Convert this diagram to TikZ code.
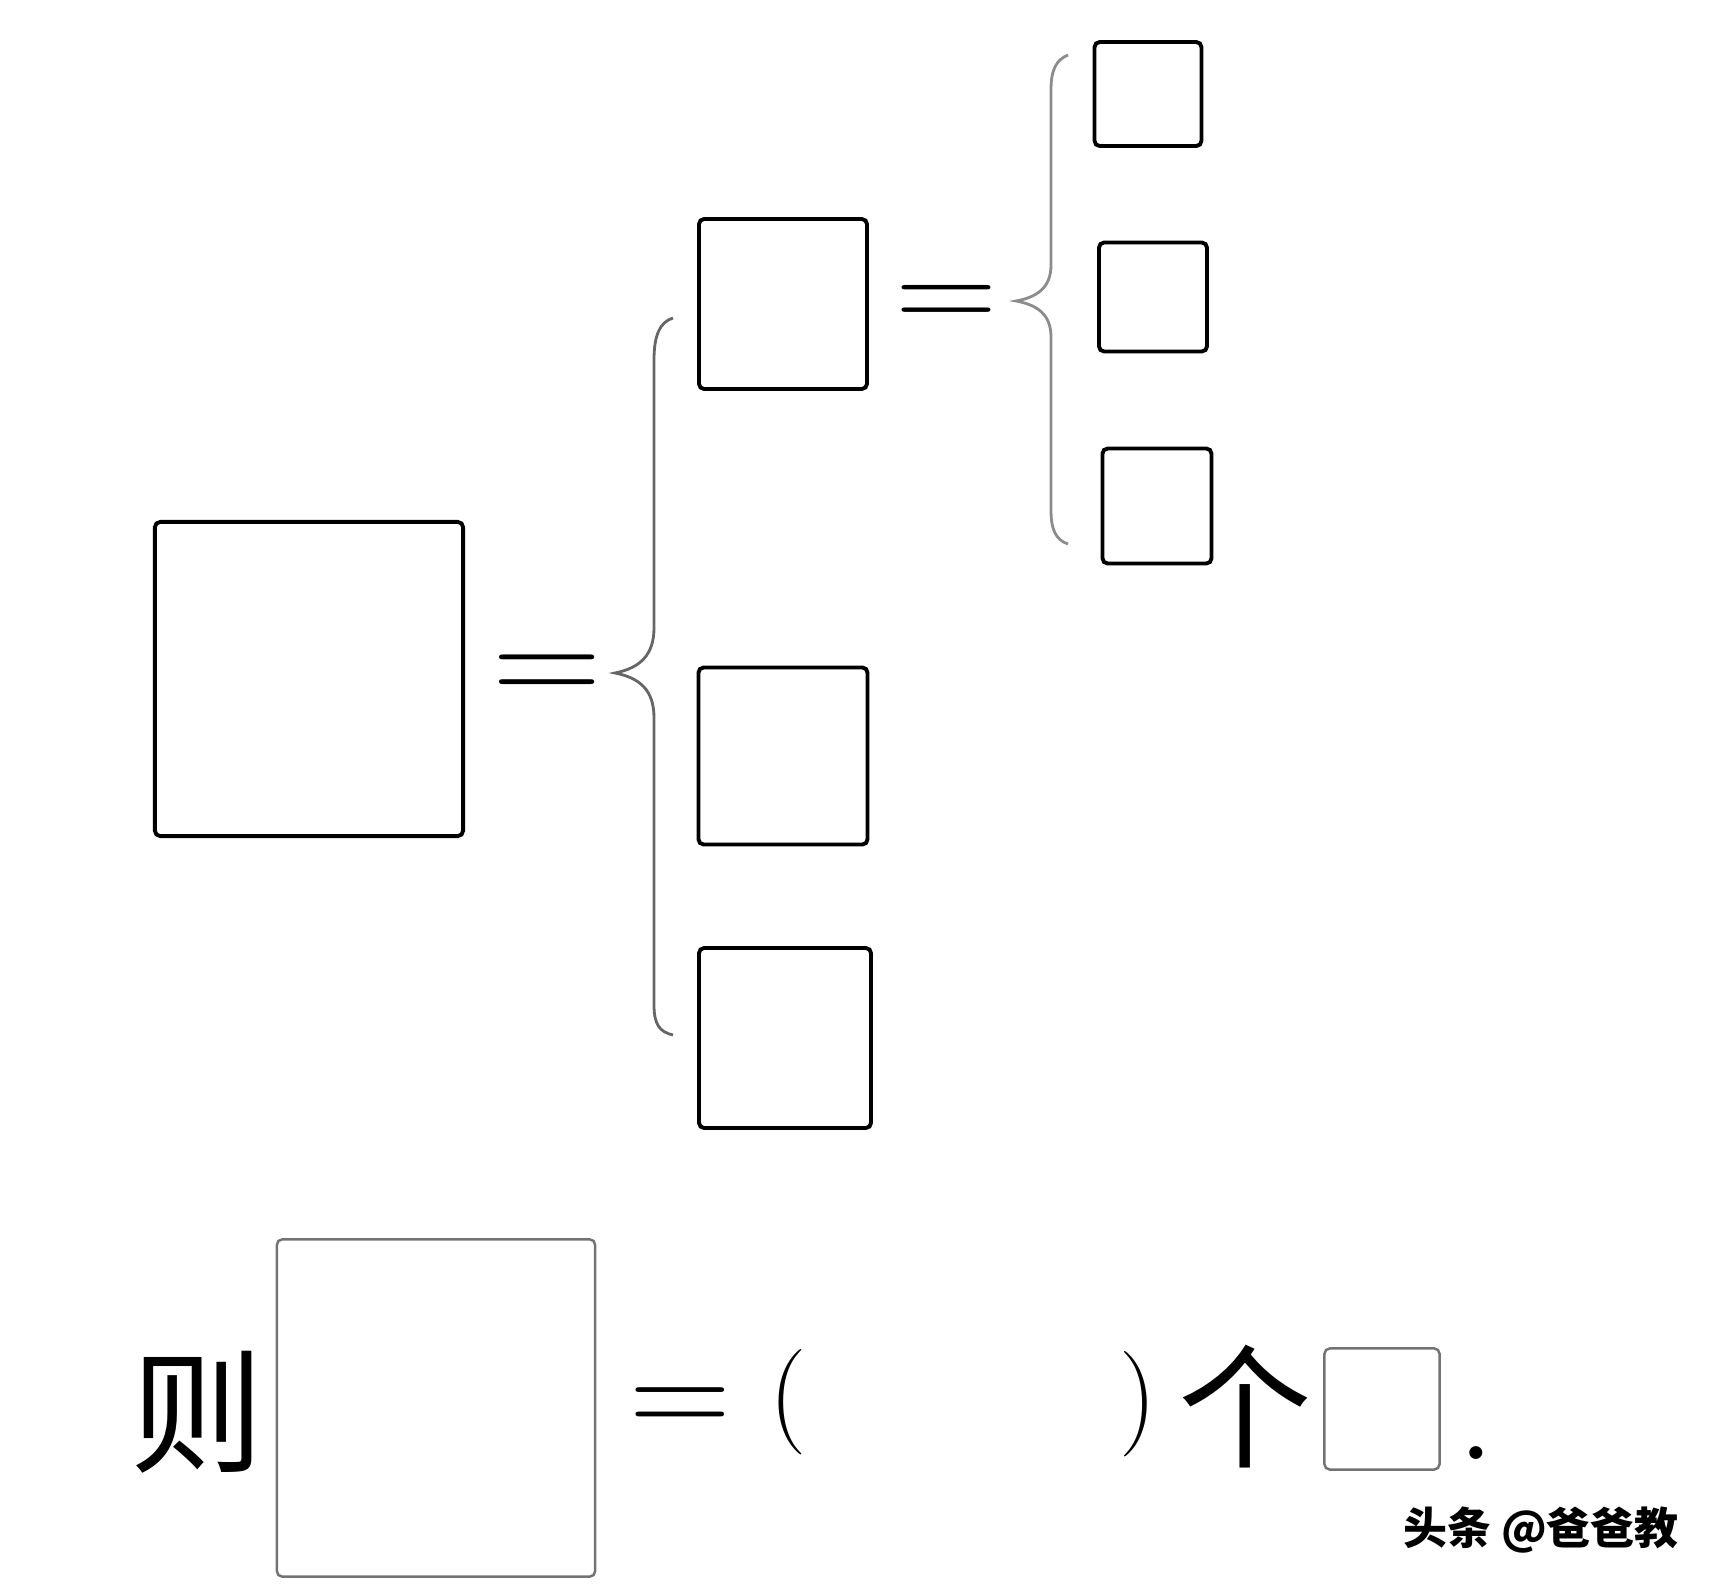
\documentclass[tikz,border=0pt]{standalone}
\usepackage{fontspec}
\newfontfamily\cjk{Noto Sans CJK SC}
\tikzset{
    %Define style for the empty boxes
    blank/.style={
           rectangle,
           rounded corners=1.5pt,
           draw=black, line width=1.1pt,
           inner sep=0pt},
    faint/.style={
           blank,
           draw=black!55, line width=0.7pt},
    % Define style for braces
    bracket/.style={
           draw=black!60,
           line width=0.8pt},
    % Define style for text
    word/.style={
           font=\cjk\fontsize{38}{38}\selectfont,
           inner sep=0pt},
    eqsign/.style={
           anchor=base,
           inner sep=0pt}
}
\begin{document}
\begin{tikzpicture}[x=0.01cm, y=-0.01cm]
\useasboundingbox (0,0) rectangle (1717,1591);
% top part
\node[blank, minimum width=3.08cm, minimum height=3.14cm](whole) at (309,679){};
\node[eqsign, font=\fontsize{36}{36}\selectfont](eqa) at (547,705){\scalebox{1.2}[1.1]{=}};
\node[blank, minimum width=1.68cm, minimum height=1.70cm](partA) at (783,304){};
\node[blank, minimum width=1.69cm, minimum height=1.77cm](partB) at (783,756){};
\node[blank, minimum width=1.72cm, minimum height=1.80cm](partC) at (785,1038){};
\node[eqsign, font=\fontsize{36}{36}\selectfont](eqb) at (947,331){\scalebox{1.12}[1]{=}};
\node[blank, minimum width=1.07cm, minimum height=1.04cm](bitA) at (1148,94){};
\node[blank, minimum width=1.08cm, minimum height=1.09cm](bitB) at (1153,297){};
\node[blank, minimum width=1.09cm, minimum height=1.15cm](bitC) at (1157,506){};
% braces
\draw[bracket] (673,318) .. controls (660,322) and (654,335) .. (654,360) -- (654,628)
    .. controls (654,655) and (640,668) .. (615,673)
    .. controls (640,678) and (654,690) .. (654,718) -- (654,1005)
    .. controls (654,1025) and (660,1032) .. (673,1035);
\draw[bracket, draw=black!45] (1068,55) .. controls (1056,60) and (1051,70) .. (1051,90) -- (1051,265)
    .. controls (1051,287) and (1038,297) .. (1016,301)
    .. controls (1038,305) and (1051,315) .. (1051,337) -- (1051,510)
    .. controls (1051,530) and (1056,540) .. (1068,544);
% bottom line
\node[word](ze) at (197,1412){则};
\node[faint, minimum width=3.18cm, minimum height=3.37cm](total) at (436,1408){};
\node[eqsign, font=\fontsize{39}{39}\selectfont](eqc) at (680,1436){\scalebox{1.03}[1]{=}};
\node[font=\fontsize{30}{30}\selectfont, inner sep=0pt](lp) at (788,1402){(};
\node[font=\fontsize{30}{30}\selectfont, inner sep=0pt](rp) at (1138,1404){)};
\node[word](ge) at (1245,1407){个};
\node[faint, minimum width=1.15cm, minimum height=1.21cm](unit) at (1382,1409){};
\node[eqsign, font=\fontsize{45}{45}\selectfont](dot) at (1476,1459){.};
\node[font=\cjk\bfseries\fontsize{12.5}{12.5}\selectfont, inner sep=0pt](mark) at (1541,1530){头条 @爸爸教};
\end{tikzpicture}
\end{document}
